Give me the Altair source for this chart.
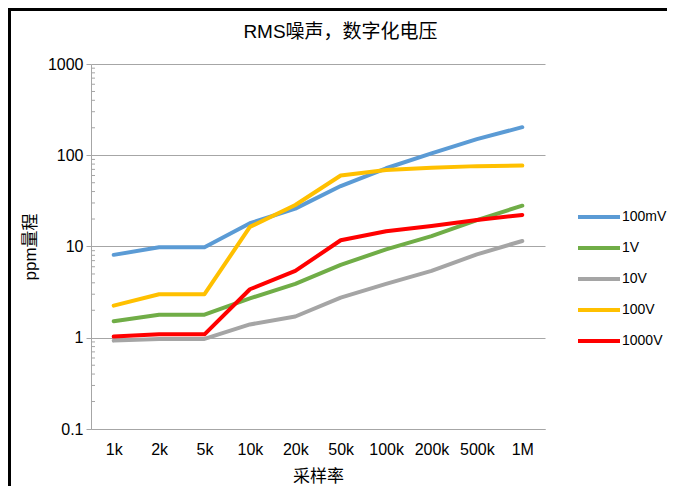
import altair as alt
import pandas as pd

rates = ["1k", "2k", "5k", "10k", "20k", "50k", "100k", "200k", "500k", "1M"]
series = ["100mV", "1V", "10V", "100V", "1000V"]
colors = ["#5B9BD5", "#70AD47", "#A5A5A5", "#FFC000", "#FF0000"]

v_100mV = [8.1, 9.8, 9.8, 18.0, 26.0, 46.0, 72.0, 105.0, 150.0, 203.0]
v_1V = [1.52, 1.79, 1.79, 2.7, 3.9, 6.3, 9.3, 13.0, 19.5, 28.0]
v_10V = [0.93, 0.97, 0.97, 1.4, 1.71, 2.75, 3.9, 5.4, 8.2, 11.5]
v_100V = [2.25, 3.0, 3.0, 16.4, 28.5, 60.0, 69.0, 73.0, 76.0, 77.0]
v_1000V = [1.03, 1.09, 1.09, 3.4, 5.4, 11.7, 14.7, 16.8, 19.5, 22.2]

y_major = [0.1, 1, 10, 100, 1000]
y_minor = [0.2, 0.3, 0.4, 0.5, 0.6, 0.7, 0.8, 0.9,
           2, 3, 4, 5, 6, 7, 8, 9,
           20, 30, 40, 50, 60, 70, 80, 90,
           200, 300, 400, 500, 600, 700, 800, 900]

title_text = "RMS噪声，数字化电压"

values = [v_100mV, v_1V, v_10V, v_100V, v_1000V]
rows = []
for s, vals in zip(series, values):
    for r, v in zip(rates, vals):
        rows.append({"series": s, "rate": r, "value": v})
df = pd.DataFrame(rows)

GRAY = "#A6A6A6"
FONT = "Liberation Sans, Arial, Noto Sans CJK SC"

lines = alt.Chart(df).mark_line(
    strokeWidth=4, strokeCap="round", strokeJoin="round"
).encode(
    x=alt.X("rate:N", sort=rates,
            scale=alt.Scale(type="point", padding=0.5),
            axis=alt.Axis(title="采样率", labelAngle=0, ticks=False, tickSize=0,
                          labelPadding=12, domainColor=GRAY, grid=False,
                          labelFontSize=16, titleFontSize=17, labelColor="#000",
                          titleColor="#000", titleFontWeight="normal",
                          titleX=227, titleY=47, titleBaseline="middle")),
    y=alt.Y("value:Q",
            scale=alt.Scale(type="log", domain=[0.1, 1000], nice=False),
            axis=alt.Axis(title="ppm量程", values=y_major, format="~g",
                          tickSize=5, tickColor=GRAY, domainColor=GRAY,
                          grid=True, gridColor=GRAY, gridWidth=1, labelPadding=3,
                          labelFontSize=16, titleFontSize=17, labelColor="#000",
                          titleColor="#000", titleFontWeight="normal",
                          titleX=-61, titleY=182.5, titleBaseline="middle")),
    color=alt.Color("series:N", sort=series,
                    scale=alt.Scale(domain=series, range=colors),
                    legend=alt.Legend(title=None, orient="none", legendX=485, legendY=130,
                                      symbolType="stroke", symbolSize=1764,
                                      symbolStrokeWidth=4, labelFontSize=14,
                                      labelOffset=0, labelColor="#000", rowPadding=0)),
)

minor = alt.Chart(pd.DataFrame({"v": y_minor})).mark_rule(
    color=GRAY, strokeWidth=1
).encode(
    y=alt.Y("v:Q"),
    x=alt.value(0),
    x2=alt.value(4),
)

title = alt.Chart(pd.DataFrame({"t": [title_text]})).mark_text(
    fontSize=19, color="#000", align="center", baseline="middle", font=FONT
).encode(text="t:N", x=alt.value(249.5), y=alt.value(-32))

border_left = alt.Chart(pd.DataFrame({"a": [0]})).mark_rule(
    color="#000", strokeWidth=3
).encode(x=alt.value(-81.5), y=alt.value(-56), y2=alt.value(422))

border_top = alt.Chart(pd.DataFrame({"a": [0]})).mark_rule(
    color="#000", strokeWidth=3
).encode(x=alt.value(-83), x2=alt.value(576), y=alt.value(-54.5))

chart = alt.layer(lines, minor, title, border_left, border_top).properties(
    width=454, height=365,
    autosize=alt.AutoSizeParams(type="none"),
    padding={"left": 83, "top": 56, "right": 122, "bottom": 57},
).configure(font=FONT).configure_view(stroke=None)

chart.save("out.html", embed_options={"renderer": "svg", "actions": False})
